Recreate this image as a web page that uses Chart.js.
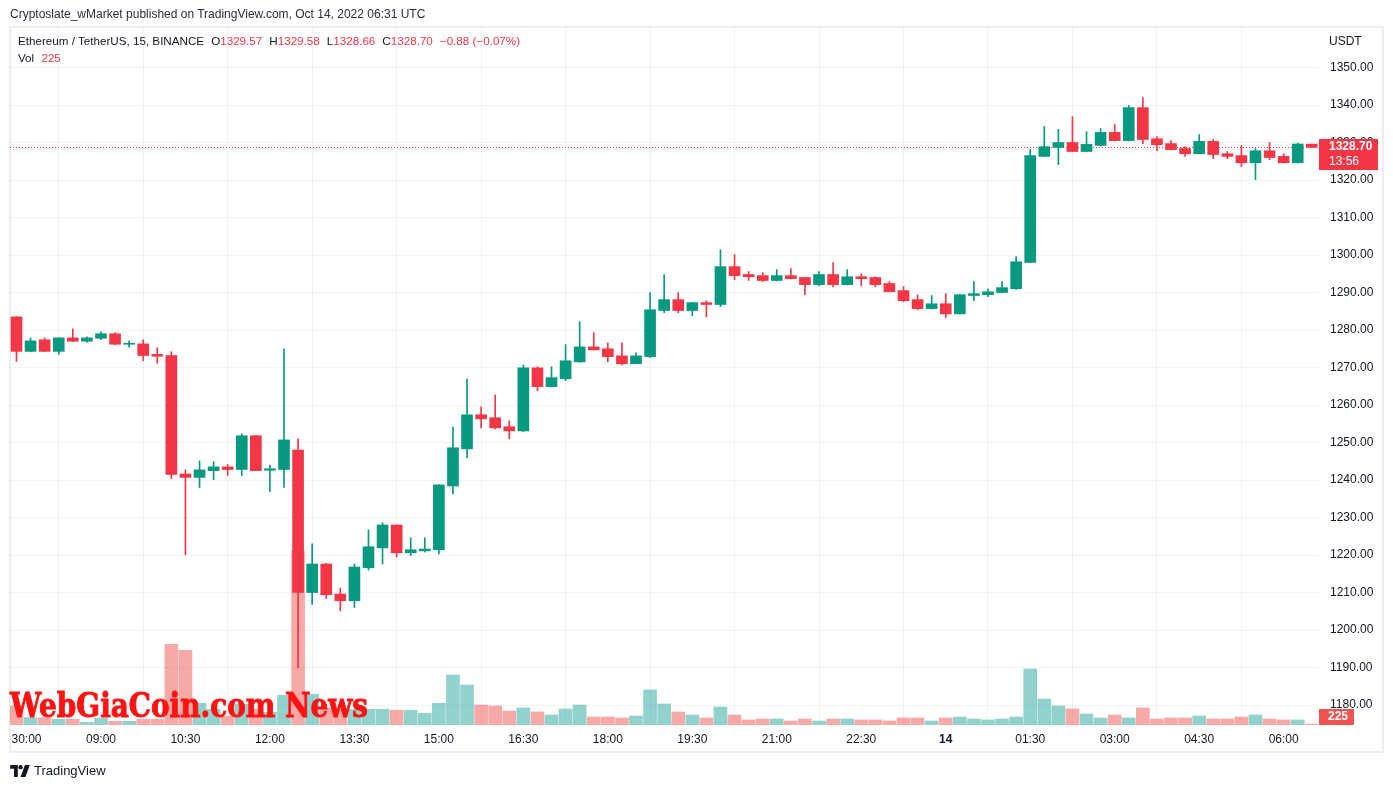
<!DOCTYPE html>
<html><head><meta charset="utf-8">
<script src="https://cdn.jsdelivr.net/npm/chart.js@4.4.1/dist/chart.umd.min.js"></script>
<style>
html,body{margin:0;padding:0;background:#fff;width:1393px;height:788px;overflow:hidden;font-family:"Liberation Sans",Arial,sans-serif;color:#131722;}
#wrap{position:relative;width:1393px;height:788px;}
#frame{position:absolute;left:9px;top:26px;width:1375px;height:727px;box-sizing:border-box;border:2px solid #eceef2;}
#c{position:absolute;left:0;top:0;}
.t{position:absolute;font-size:12px;line-height:14px;white-space:nowrap;}
.h{font-size:11.65px;}
.r{color:#F23645;}
.g{margin-left:7px;}
#wm{position:absolute;left:10px;top:685px;font-family:"DejaVu Serif",serif;font-weight:bold;font-size:34px;line-height:40px;color:#fe1212;-webkit-text-stroke:1px #fe1212;white-space:nowrap;transform-origin:0 0;}
#logo{position:absolute;left:10px;top:763px;display:flex;align-items:center;font-size:13px;color:#131722;}
</style></head>
<body><div id="wrap">
<div id="frame"></div>
<canvas id="c" width="1393" height="788"></canvas>
<div class="t" style="left:10px;top:7px;color:#2a2e39">Cryptoslate_wMarket published on TradingView.com, Oct 14, 2022 06:31 UTC</div>
<div class="t h" style="left:18px;top:34px">Ethereum / TetherUS, 15, BINANCE<span class="g">O</span><span class="r">1329.57</span><span class="g">H</span><span class="r">1329.58</span><span class="g">L</span><span class="r">1328.66</span><span class="g">C</span><span class="r">1328.70</span><span class="r g">−0.88 (−0.07%)</span></div>
<div class="t h" style="left:18px;top:51px">Vol <span class="r" style="margin-left:4px">225</span></div>
<div class="t" style="left:1329px;top:34px">USDT</div>
<div id="wm">WebGiaCoin.com News</div>
<div id="logo"><svg width="20" height="12" viewBox="0 0 36 22"><path d="M0 0h14v22H7V7H0z" fill="#131722"/><circle cx="19" cy="4" r="4" fill="#131722"/><path d="M27 0h9l-8 22h-9z" fill="#131722"/></svg><span style="margin-left:4px">TradingView</span></div>
</div>
<script>
// ---- data ----
const opens  = [1283.5,1274.3,1277.4,1274.3,1277.9,1277.0,1277.8,1279.0,1276.2,1276.3,1273.5,1273.2,1241.6,1240.7,1242.5,1243.5,1242.8,1251.8,1242.6,1242.8,1248.0,1210.0,1217.6,1209.6,1207.8,1216.6,1221.9,1228.0,1220.6,1221.1,1221.4,1238.4,1248.3,1257.4,1256.6,1254.2,1253.1,1269.9,1264.9,1267.0,1271.5,1275.5,1275.0,1273.1,1271.0,1272.9,1285.2,1288.1,1285.2,1287.3,1286.8,1296.9,1294.8,1294.5,1293.2,1294.5,1294.0,1292.1,1294.8,1292.1,1294.2,1294.0,1292.4,1290.5,1288.1,1285.7,1287.0,1284.3,1289.2,1289.4,1290.0,1291.0,1298.0,1326.3,1328.7,1330.0,1327.6,1329.2,1332.7,1330.5,1339.3,1331.0,1329.7,1328.4,1327.0,1330.3,1327.0,1326.5,1324.6,1327.8,1326.3,1324.6,1329.57];
const highs  = [1283.6,1277.9,1277.9,1278.0,1280.3,1278.2,1279.5,1279.3,1277.1,1277.4,1275.3,1274.2,1242.7,1245.1,1244.9,1244.1,1252.3,1251.9,1244.0,1275.0,1251.0,1223.0,1217.8,1211.2,1217.6,1226.7,1228.6,1228.1,1224.6,1224.6,1238.8,1254.2,1267.0,1259.5,1262.7,1255.8,1270.7,1270.2,1270.2,1276.1,1282.2,1279.3,1276.6,1276.6,1273.9,1290.0,1294.8,1290.0,1287.4,1287.8,1301.4,1300.1,1295.6,1295.3,1296.1,1296.4,1294.0,1295.6,1298.0,1296.1,1295.0,1294.2,1292.9,1291.6,1289.4,1289.2,1289.7,1289.5,1292.9,1291.0,1292.9,1299.6,1328.1,1334.3,1333.5,1336.9,1332.9,1333.7,1334.8,1339.9,1342.0,1331.6,1330.5,1328.9,1332.1,1330.8,1327.6,1329.2,1328.4,1330.0,1327.0,1329.8,1329.58];
const lows   = [1271.6,1274.2,1274.3,1273.5,1276.9,1276.7,1277.4,1276.1,1275.4,1271.8,1271.1,1240.4,1220.1,1238.0,1240.1,1241.2,1241.2,1242.5,1236.9,1238.0,1189.9,1206.8,1208.4,1205.1,1206.0,1216.0,1217.6,1219.5,1219.8,1220.8,1220.3,1236.3,1245.9,1253.9,1253.6,1251.0,1252.9,1263.8,1264.8,1266.5,1271.4,1274.7,1271.5,1270.7,1271.0,1272.6,1284.6,1284.6,1283.8,1283.5,1286.2,1293.4,1293.2,1292.9,1293.1,1293.6,1289.4,1291.8,1291.5,1292.0,1291.8,1291.5,1290.2,1287.5,1285.4,1285.6,1283.3,1284.3,1287.8,1288.9,1289.9,1290.8,1297.9,1326.2,1324.1,1327.5,1327.5,1329.1,1330.4,1330.4,1329.7,1327.8,1328.0,1326.3,1327.0,1325.7,1325.7,1323.6,1320.1,1325.4,1324.5,1324.5,1328.66];
const closes = [1274.3,1277.1,1274.3,1277.9,1277.0,1277.9,1279.0,1276.2,1276.4,1273.2,1273.0,1241.5,1240.7,1242.7,1243.5,1242.8,1251.8,1242.5,1243.0,1250.7,1210.0,1217.6,1209.4,1207.8,1216.8,1222.2,1228.0,1220.6,1221.4,1221.6,1238.7,1248.6,1257.4,1256.3,1253.9,1253.1,1269.9,1264.9,1267.3,1271.8,1275.5,1274.7,1272.9,1271.0,1273.1,1285.4,1288.1,1285.2,1287.3,1286.8,1296.9,1294.5,1294.2,1293.2,1294.5,1293.7,1292.1,1294.8,1292.1,1294.2,1293.7,1292.1,1290.2,1287.8,1285.7,1287.0,1284.3,1289.4,1289.7,1290.2,1291.3,1298.2,1326.5,1328.9,1330.0,1327.6,1329.5,1332.7,1330.5,1339.3,1330.8,1329.4,1328.1,1327.0,1330.3,1326.8,1326.3,1324.6,1327.8,1326.0,1324.6,1329.6,1328.70];
const volumes = [4280,1640,1640,1280,1280,610,1510,830,830,1280,1280,18160,16810,4880,3530,1960,4660,3600,2860,6680,39150,6910,3830,3600,3530,3530,3530,3310,3310,2630,4880,11250,9000,4500,4280,3150,3830,2930,2250,3600,4500,1800,1800,1580,2030,7880,4730,2930,2250,1580,4050,2250,1130,1350,1350,900,1350,900,1350,1350,1130,1130,900,1580,1580,900,1580,1800,1350,1130,1350,1800,12600,5850,4280,3600,2480,1580,2250,1580,3830,1350,1580,1580,2030,1350,1350,1800,2250,1350,1130,1130,225];
const tickIndex  = [0,6,12,18,24,30,36,42,48,54,60,66,72,78,84,90];
const tickLabels = ["30:00","09:00","10:30","12:00","13:30","15:00","16:30","18:00","19:30","21:00","22:30","14","01:30","03:00","04:30","06:00"];
const priceTicks = [1180,1190,1200,1210,1220,1230,1240,1250,1260,1270,1280,1290,1300,1310,1320,1330,1340,1350];
const lastPrice = 1328.70, lastVolume = 225, countdown = "13:56";

// ---- styles ----
const UP='#089981', DN='#F23645', VUP='rgba(38,166,154,0.5)', VDN='rgba(239,83,80,0.5)';
const GRID='rgba(42,46,57,0.06)', FONT='"Liberation Sans", Arial, sans-serif';
const isUp = i => closes[i] >= opens[i];
const cCol = opens.map((o,i)=> isUp(i)?UP:DN);
const vCol = opens.map((o,i)=> isUp(i)?VUP:VDN);

const overlay = {
  id:'overlay',
  beforeDatasetsDraw(chart){
    const {ctx, chartArea:a, scales:{y}} = chart;
    const py = Math.round(y.getPixelForValue(lastPrice))+0.5;
    ctx.save(); ctx.strokeStyle=DN; ctx.lineWidth=1; ctx.setLineDash([1,2]);
    ctx.beginPath(); ctx.moveTo(a.left,py); ctx.lineTo(a.right,py); ctx.stroke(); ctx.restore();
  },
  afterDraw(chart){
    const {ctx, chartArea:a, scales:{y}} = chart;
    const py = Math.round(y.getPixelForValue(lastPrice));
    ctx.save();
    ctx.fillStyle=DN; ctx.fillRect(a.right+1, py-8, 59, 31);
    ctx.fillStyle='#fff'; ctx.font='bold 12px '+FONT; ctx.textBaseline='middle'; ctx.textAlign='left';
    ctx.fillText(lastPrice.toFixed(2), a.right+11, py);
    ctx.font='12px '+FONT; ctx.fillText(countdown, a.right+11, py+15);
    ctx.fillStyle='#EF5350'; ctx.fillRect(a.right+1, a.bottom-16, 35, 16);
    ctx.fillStyle='#fff'; ctx.font='bold 12px '+FONT; ctx.fillText(String(lastVolume), a.right+10, a.bottom-8);
    ctx.restore();
  }
};

new Chart(document.getElementById('c'), {
  type:'bar',
  data:{ datasets:[
    {label:'Volume', yAxisID:'yv', data: volumes.map((v,i)=>({x:i,y:v})), backgroundColor:vCol, barThickness:13, grouped:false, order:3},
    {label:'Wick', yAxisID:'y', data: highs.map((h,i)=>({x:i,y:[lows[i],h]})), backgroundColor:cCol, barThickness:1, grouped:false, order:2},
    {label:'Body', yAxisID:'y', data: opens.map((o,i)=>({x:i,y:[o,closes[i]]})), backgroundColor:cCol, barThickness:11, minBarLength:1, grouped:false, order:1}
  ]},
  options:{
    responsive:false, animation:false, events:[],
    layout:{padding:{left:10,top:27,right:0,bottom:35}},
    plugins:{legend:{display:false}, tooltip:{enabled:false}},
    scales:{
      x:{type:'linear', min:-0.4616, max:92.44, offset:false,
         afterBuildTicks:s=>{ s.ticks = tickIndex.map(v=>({value:v})); },
         afterFit:s=>{ s.height=28; s.paddingLeft=0; s.paddingRight=0; },
         grid:{color:GRID, drawTicks:false}, border:{display:false},
         ticks:{autoSkip:false, maxRotation:0, padding:7, color:'#131722',
           font:c=>({family:FONT, size:12, weight:(c.tick && c.tick.label==='14')?'bold':'normal'}),
           callback:v=>{ const k = tickIndex.indexOf(v); return k===0 ? '\u2007\u2007\u2007' + tickLabels[k] : tickLabels[k]; } }},
      y:{type:'linear', position:'right', min:1174.67, max:1360.8,
         afterBuildTicks:s=>{ s.ticks = priceTicks.map(v=>({value:v})); },
         afterFit:s=>{ s.width=75; s.paddingTop=0; s.paddingBottom=0; },
         grid:{color:GRID, drawTicks:false}, border:{display:false},
         ticks:{padding:12, color:'#131722', font:{family:FONT,size:12}, callback:v=>v.toFixed(2)}},
      yv:{type:'linear', display:false, min:0, max:157050}
    }
  },
  plugins:[overlay]
});

const wm = document.getElementById('wm');
const w = wm.getBoundingClientRect().width;
wm.style.transform = 'scaleX(' + (358/w) + ')';
</script>
</body></html>
